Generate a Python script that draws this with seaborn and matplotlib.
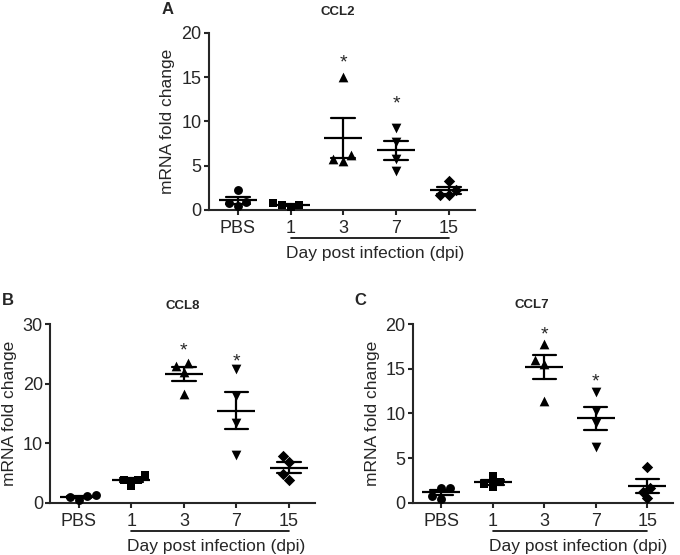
import numpy as np
import pandas as pd
import seaborn as sns
import matplotlib
matplotlib.use("Agg")
import matplotlib.pyplot as plt
import matplotlib.transforms as mtransforms

groups = ["PBS", "1", "3", "7", "15"]
markerList = ["o", "s", "^", "v", "D"]

# CCL2 (panel A)
ccl2 = [[2.2, 0.9, 0.4, 0.8],
        [0.5, 0.3, 0.75, 0.5],
        [15.0, 6.2, 5.5, 5.7],
        [9.2, 7.7, 5.7, 4.35],
        [3.2, 2.2, 1.65, 1.7]]

# CCL8 (panel B)
ccl8 = [[1.2, 0.5, 1.3, 0.9],
        [4.7, 3.9, 3.8, 2.9],
        [22.9, 23.4, 21.9, 18.2],
        [22.5, 17.9, 13.4, 8.1],
        [7.9, 6.9, 4.9, 3.9]]

# CCL7 (panel C)
ccl7 = [[1.7, 1.7, 0.8, 0.45],
        [2.3, 3.0, 1.8, 2.1],
        [17.8, 16.0, 15.5, 11.4],
        [12.4, 10.3, 8.9, 6.2],
        [4.05, 1.7, 1.26, 0.5]]

# significance stars (group, height)
starGroups = ["3", "7"]
ccl2Stars = [17.3, 12.6]
ccl8Stars = [26.5, 24.6]
ccl7Stars = [19.4, 14.2]

ccl2Ticks = [0, 5, 10, 15, 20]
ccl8Ticks = [0, 10, 20, 30]
ccl7Ticks = [0, 5, 10, 15, 20]

markerSizes = {"o": 6.4, "s": 6.2, "^": 7.0, "v": 7.0, "D": 5.8}


###
def makeFrame(values):
    rows = []
    for group, vals in zip(groups, values):
        for v in vals:
            rows.append({"group": group, "value": v})
    return pd.DataFrame(rows)


###
def drawPanel(ax, values, yTicks, stars):
    df = makeFrame(values)

    for group, m in zip(groups, markerList):
        sub = df[df["group"] == group]
        sns.swarmplot(data=sub, x="group", y="value", order=groups, marker=m,
                      color="black", size=markerSizes[m], linewidth=0, ax=ax,
                      warn_thresh=1)

    sns.pointplot(data=df, x="group", y="value", order=groups, errorbar="se",
                  capsize=0.45, color="black", marker="_", markersize=27,
                  markeredgewidth=1.6, linestyle="none", linewidth=1.6,
                  err_kws={"linewidth": 1.6}, ax=ax)

    for artist in ax.collections + ax.lines:
        artist.set_clip_on(False)

    ax.set_xlim(-0.55, 4.5)
    ax.set_ylim(yTicks[0], yTicks[-1])
    ax.set_yticks(yTicks)
    ax.set_xlabel("")
    ax.set_ylabel("mRNA fold change", fontsize=12.5)
    ax.yaxis.set_label_coords(-0.125, 0.5)
    sns.despine(ax=ax)
    for s in ["left", "bottom"]:
        ax.spines[s].set_linewidth(1.5)
    ax.tick_params(axis="both", direction="out", length=3.6, width=1.5,
                   labelsize=13, pad=1.5)
    ax.tick_params(axis="x", pad=4)

    for group, h in zip(starGroups, stars):
        ax.annotate("*", xy=(groups.index(group), h), xytext=(0, -7.5),
                    textcoords="offset points", ha="center", va="baseline",
                    fontsize=14)

    trans = mtransforms.blended_transform_factory(ax.transData, ax.transAxes)
    ax.plot([1, 4], [-0.16, -0.16], color="black", linewidth=1.2,
            transform=trans, clip_on=False)
    ax.text(0.92, -0.245, "Day post infection (dpi)", ha="left", va="center",
            fontsize=12.5, transform=trans)


###
if __name__ == '__main__':
    sns.set_style("ticks")
    plt.rcParams["font.family"] = ["Liberation Sans", "DejaVu Sans"]

    fig = plt.figure(figsize=(6.8, 5.55), dpi=100)
    axA = fig.add_axes([0.307, 0.622, 0.392, 0.319])
    axB = fig.add_axes([0.0735, 0.094, 0.390, 0.322])
    axC = fig.add_axes([0.607, 0.094, 0.383, 0.322])

    drawPanel(axA, ccl2, ccl2Ticks, ccl2Stars)
    drawPanel(axB, ccl8, ccl8Ticks, ccl8Stars)
    drawPanel(axC, ccl7, ccl7Ticks, ccl7Stars)

    fig.text(0.247, 0.982, "A", fontsize=12, fontweight="bold", ha="center", va="center")
    fig.text(0.011, 0.459, "B", fontsize=12, fontweight="bold", ha="center", va="center")
    fig.text(0.5295, 0.459, "C", fontsize=12, fontweight="bold", ha="center", va="center")

    fig.text(0.497, 0.979, "CCL2", fontsize=9.5, fontweight="bold", ha="center", va="center")
    fig.text(0.269, 0.449, "CCL8", fontsize=9.5, fontweight="bold", ha="center", va="center")
    fig.text(0.782, 0.451, "CCL7", fontsize=9.5, fontweight="bold", ha="center", va="center")

    fig.savefig("out.png", dpi=100)
